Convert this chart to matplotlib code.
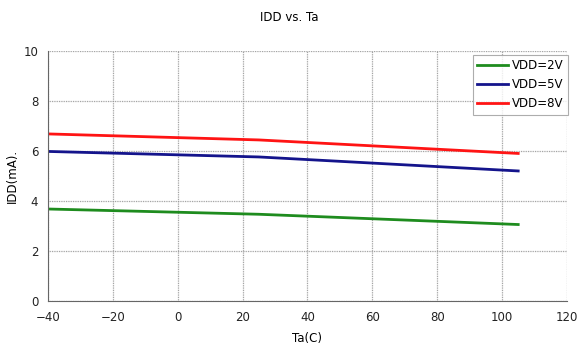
import matplotlib
matplotlib.use("Agg")
import matplotlib.pyplot as plt

# ------------------------------------------------------------------
# Data
# ------------------------------------------------------------------
ta = [-40, 25, 105]
idd_2v = [3.68, 3.47, 3.06]
idd_5v = [5.98, 5.76, 5.20]
idd_8v = [6.68, 6.44, 5.90]

x_ticks = [-40, -20, 0, 20, 40, 60, 80, 100, 120]
y_ticks = [0, 2, 4, 6, 8, 10]

# ------------------------------------------------------------------
# Plot
# ------------------------------------------------------------------
plt.rcParams["font.family"] = "DejaVu Sans"
fig = plt.figure(figsize=(5.79, 3.53), dpi=100)
ax = fig.add_axes([0.083, 0.147, 0.896, 0.709])

ax.plot(ta, idd_2v, color="#1e8c1e", linewidth=2, label="VDD=2V")
ax.plot(ta, idd_5v, color="#14148c", linewidth=2, label="VDD=5V")
ax.plot(ta, idd_8v, color="#ff1414", linewidth=2, label="VDD=8V")

ax.set_xlim(-40, 120)
ax.set_ylim(0, 10)
ax.set_xticks(x_ticks)
ax.set_yticks(y_ticks)
ax.tick_params(labelsize=8.5, length=0, pad=7, labelcolor="#222222")
ax.grid(True, color="#999999", linestyle=(0, (0.7, 0.7)), linewidth=0.9)

for side in ["top", "right"]:
    ax.spines[side].set_visible(False)
for side in ["left", "bottom"]:
    ax.spines[side].set_color("#666666")

ax.set_xlabel("Ta(C)", fontsize=8.5, labelpad=6)
ax.set_ylabel("IDD(mA).", fontsize=8.5, labelpad=3)
fig.suptitle("IDD vs. Ta", fontsize=8.5, y=0.97)

leg = ax.legend(loc="upper right", bbox_to_anchor=(1.002, 0.985),
                fontsize=8.5, fancybox=False, edgecolor="#999999",
                handlelength=2.6, labelspacing=0.5, borderaxespad=0,
                handletextpad=0.3, borderpad=0.4)
leg.get_frame().set_linewidth(0.8)

fig.savefig("out.png", dpi=100)
